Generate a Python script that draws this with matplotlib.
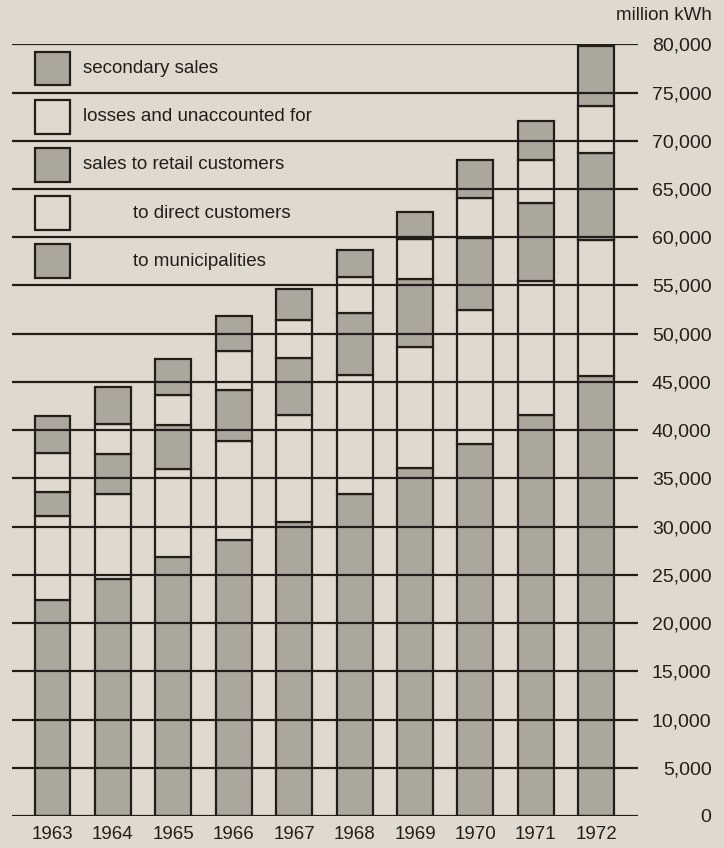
import numpy as np
import matplotlib
matplotlib.use("Agg")
import matplotlib.pyplot as plt

plt.rcParams['font.family'] = ['Liberation Sans', 'DejaVu Sans']

# data, million kWh per segment
years = ["1963", "1964", "1965", "1966", "1967", "1968", "1969", "1970", "1971", "1972"]
municipalities = [22400, 24550, 26900, 28600, 30500, 33400, 36100, 38600, 41550, 45600]
direct_customers = [8700, 8850, 9100, 10300, 11050, 12300, 12500, 13900, 13950, 14100]
retail_customers = [2500, 4100, 4500, 5300, 5950, 6400, 7100, 7400, 8000, 9000]
losses = [4050, 3100, 3100, 4000, 3950, 3800, 4100, 4200, 4500, 4900]
secondary = [3850, 3900, 3800, 3600, 3200, 2800, 2800, 3900, 4100, 6200]

y_ticks = list(range(0, 80001, 5000))
y_labels = ["0"] + [f"{v:,}" for v in y_ticks[1:]]

# legend, top to bottom
legend_labels = ["secondary sales", "losses and unaccounted for", "sales to retail customers",
                 "to direct customers", "to municipalities"]
legend_indent = [0, 0, 0, 1, 1]

bg = "#dedad0"
gray = "#aaa79f"
ink = "#221e1a"

fig = plt.figure(figsize=(7.24, 8.48), dpi=100, facecolor=bg)
ax = fig.add_axes([12 / 724, 32 / 848, 626 / 724, 771.7 / 848])
ax.set_facecolor(bg)

x = np.arange(len(years))
series = [municipalities, direct_customers, retail_customers, losses, secondary]
fills = [gray, bg, gray, bg, gray]
bottom = np.zeros(len(years))
for vals, col in zip(series, fills):
    ax.bar(x, vals, bottom=bottom, width=0.595, color=col, edgecolor=ink, linewidth=1.6, zorder=2)
    bottom += np.array(vals)

# horizontal rules run over the bars
for v in y_ticks:
    ax.axhline(v, color=ink, linewidth=1.6, zorder=3)

ax.set_xlim(-0.67, 9.69)
ax.set_ylim(0, 80000)
for s in ax.spines.values():
    s.set_visible(False)

ax.set_xticks(x)
ax.set_xticklabels(years, fontsize=13.5, color=ink)
ax.tick_params(axis="x", length=0, pad=7)

ax.yaxis.tick_right()
ax.set_yticks(y_ticks)
ax.set_yticklabels(y_labels, fontsize=14, color=ink, ha="right")
ax.tick_params(axis="y", length=0, pad=53)

fig.text(712 / 724, 1 - 15 / 848, "million kWh", ha="right", va="center", fontsize=13.5, color=ink)

# legend boxes sit between the top rules, lined up with the first bar
box_cols = [gray, bg, gray, bg, gray]
for i, (lab, ind, col) in enumerate(zip(legend_labels, legend_indent, box_cols)):
    mid = 77500 - i * 5000
    ax.bar(0, 3500, bottom=mid - 1750, width=0.58, color=col, edgecolor=ink, linewidth=1.6, zorder=4)
    tx = 0.5 if ind == 0 else 1.33
    ax.text(tx, mid, lab, fontsize=13.5, color=ink, va="center", ha="left", zorder=5)

fig.savefig("out.png", dpi=100, facecolor=bg)
